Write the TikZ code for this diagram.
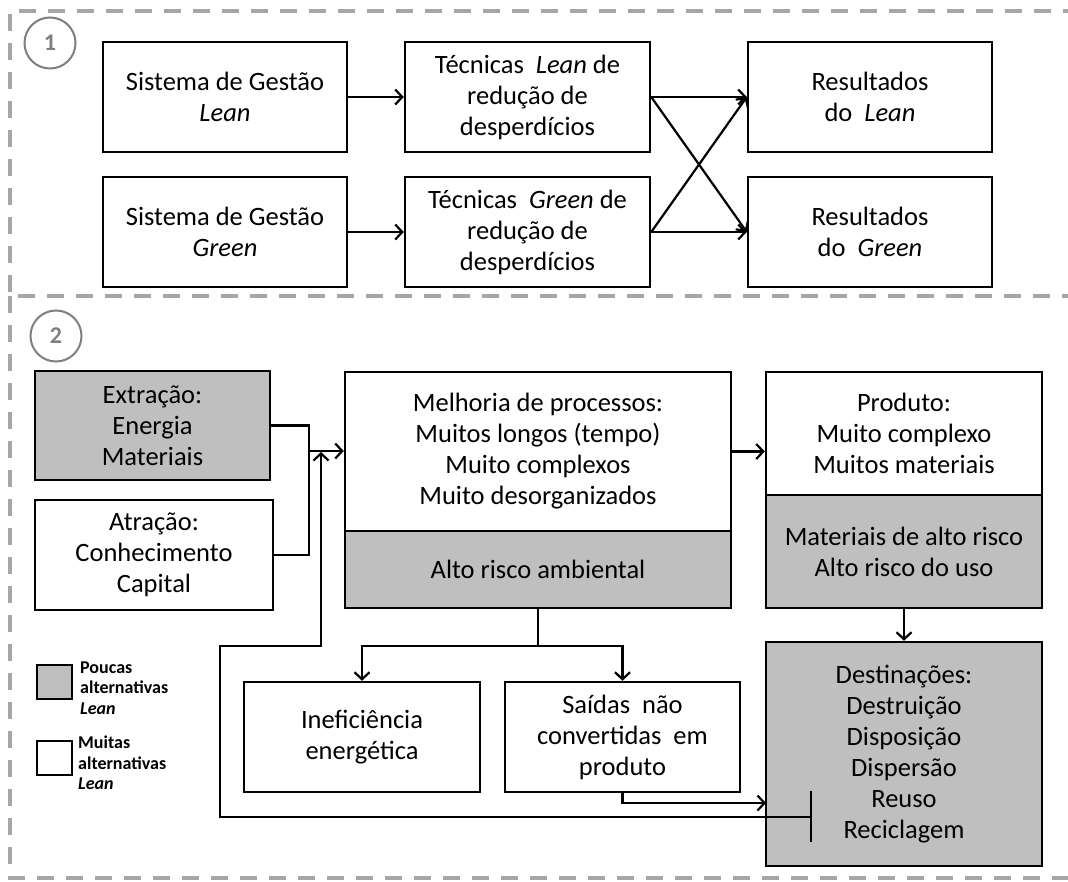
\documentclass[tikz,border=0pt]{standalone}
\usepackage{fontspec}
\setmainfont{Carlito}
\usetikzlibrary{arrows.meta}
\definecolor{boxgray}{HTML}{BFBFBF}
\definecolor{framegray}{HTML}{A6A6A6}
\definecolor{numgray}{HTML}{7F7F7F}
\tikzset{
  box/.style={draw=black, line width=2.5pt, align=center, inner sep=0pt,
    font=\fontsize{26.5}{31}\selectfont},
  graybox/.style={box, fill=boxgray},
  conn/.style={line width=2.2pt},
  arr/.style={conn, -{Straight Barb[length=7pt,width=15pt]}},
  frame/.style={draw=framegray, line width=4pt, dash pattern=on 17pt off 12pt},
  numcircle/.style={circle, draw=numgray, line width=2pt, minimum size=51pt,
    inner sep=0pt, text=numgray, font=\fontsize{24}{28}\selectfont\bfseries},
  legendbox/.style={draw=black, line width=2.5pt, minimum width=35pt, minimum height=34pt, inner sep=0pt},
  legendtext/.style={align=left, inner sep=0pt, font=\fontsize{18}{20.5}\selectfont\bfseries}
}
\begin{document}
\begin{tikzpicture}[x=1pt, y=-1pt]
\useasboundingbox (0,0) rectangle (1068,881);

% dashed section frames
\draw[frame] (1080,11) -- (10,11) -- (10,296) -- (1080,296);
\draw[frame] (10,296) -- (10,878) -- (1080,878);

% section numbers
\node[numcircle] (n1) at (50,43) {1};
\node[numcircle] (n2) at (56,336) {2};

% ---------- section 1 ----------
\node[box, minimum width=244pt, minimum height=110pt] (sgl) at (225,97)
  {Sistema de Gestão\\\textit{Lean}};
\node[box, minimum width=244pt, minimum height=110pt] (sgg) at (225,232)
  {Sistema de Gestão\\\textit{Green}};
\node[box, minimum width=245pt, minimum height=110pt] (tl) at (527.5,97)
  {Técnicas~ \textit{Lean} de\\redução de\\desperdícios};
\node[box, minimum width=245pt, minimum height=110pt] (tg) at (527.5,232)
  {Técnicas~ \textit{Green} de\\redução de\\desperdícios};
\node[box, minimum width=244pt, minimum height=110pt] (rl) at (870,97)
  {Resultados\\do~ \textit{Lean}};
\node[box, minimum width=244pt, minimum height=110pt] (rg) at (870,232)
  {Resultados\\do~ \textit{Green}};

\draw[arr] (sgl.east) -- (tl.west);
\draw[arr] (sgg.east) -- (tg.west);
\draw[arr] (tl.east) -- (rl.west);
\draw[arr] (tl.east) -- (rg.west);
\draw[arr] (tg.east) -- (rg.west);
\draw[arr] (tg.east) -- (rl.west);

% ---------- section 2 ----------
\node[graybox, minimum width=235pt, minimum height=109pt] (ext) at (152.5,425.5)
  {Extração:\\Energia\\Materiais};
\node[box, minimum width=238pt, minimum height=110pt] (atr) at (154,555)
  {Atração:\\Conhecimento\\Capital};

\node[box, minimum width=386pt, minimum height=159pt] (melT) at (538,451.5)
  {Melhoria de processos:\\Muitos longos (tempo)\\Muito complexos\\Muito desorganizados};
\node[graybox, minimum width=386pt, minimum height=77pt] (melB) at (538,569.5)
  {Alto risco ambiental};

\node[box, minimum width=276pt, minimum height=123pt] (prodT) at (904,433.5)
  {Produto:\\Muito complexo\\Muitos materiais};
\node[graybox, minimum width=276pt, minimum height=113pt] (prodB) at (904,551.5)
  {Materiais de alto risco\\Alto risco do uso};

\node[box, minimum width=236pt, minimum height=110pt] (inef) at (362,737)
  {Ineficiência\\energética};
\node[box, minimum width=235pt, minimum height=110pt] (said) at (622.5,737)
  {Saídas~ não\\convertidas~ em\\produto};
\node[graybox, minimum width=276pt, minimum height=224pt] (dest) at (904,754)
  {Destinações:\\Destruição\\Disposição\\Dispersão\\Reuso\\Reciclagem};

% inputs joining into the process box
\coordinate (join) at (309,451);
\draw[conn] (ext.east) -| (join);
\draw[conn] (atr.east) -| (join);
\draw[arr] (join) -- (join -| melT.west);

% process to product, product to destinations
\draw[arr] (melT.east) -- (melT.east -| prodT.west);
\draw[arr] (prodB.south) -- (dest.north);

% process outputs
\coordinate (split) at (538,646);
\draw[conn] (melB.south) -- (split);
\draw[arr] (split) -| (inef.north);
\draw[arr] (split) -| (said.north);

% unconverted outputs to destinations
\coordinate (destIn) at (766,803);
\draw[arr] (said.south) |- (destIn);

% reuse / recycling bracket and feedback loop
\coordinate (brkTop) at (811,791);
\coordinate (brkBot) at (811,842);
\coordinate (brkMid) at (811,817);
\coordinate (fbEnd) at (321,452);
\draw[line width=2.5pt] (brkTop) -- (brkBot);
\draw[arr] (brkMid) -- (220,817) -- (220,646) -- (321,646) -- (fbEnd);

% legend
\node[legendbox, fill=boxgray] (lg1) at (54.5,682) {};
\node[legendtext, anchor=west] (lt1) at (80,688) {Poucas\\alternativas\\\textit{Lean}};
\node[legendbox, fill=white] (lg2) at (54.5,758) {};
\node[legendtext, anchor=west] (lt2) at (78,763) {Muitas\\alternativas\\\textit{Lean}};
\end{tikzpicture}
\end{document}
